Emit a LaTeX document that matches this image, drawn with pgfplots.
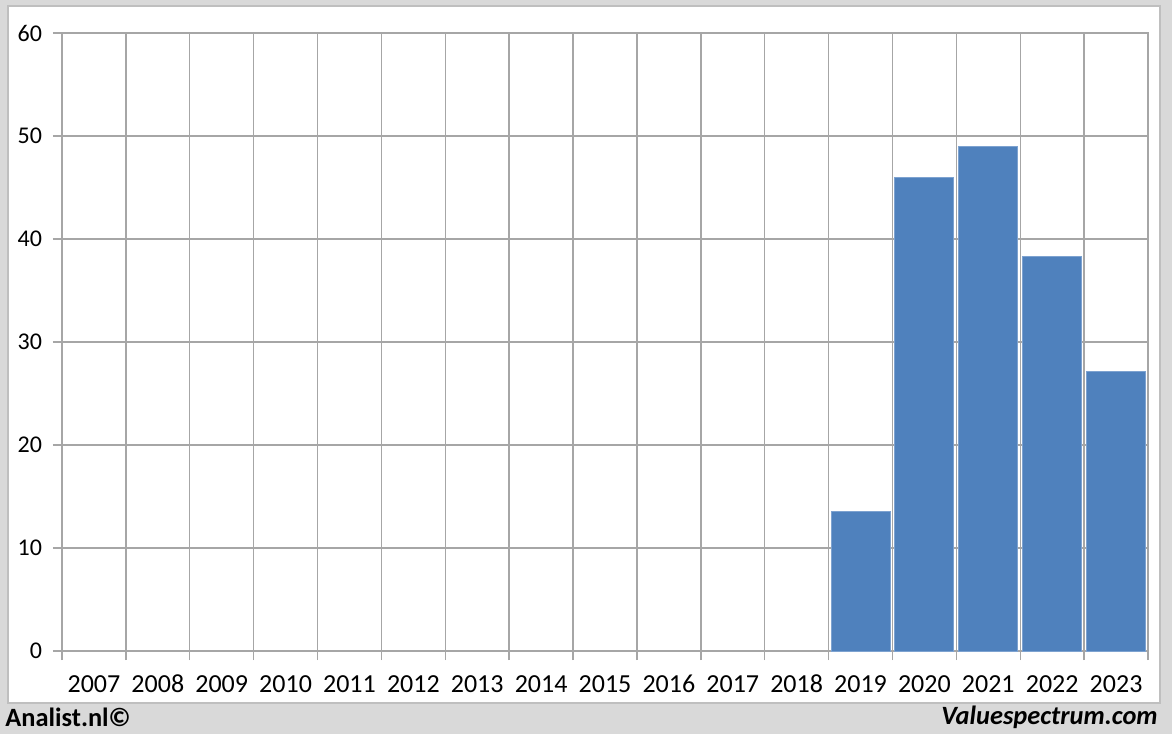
\documentclass[border=0pt]{standalone}
\usepackage{pgfplots}
\pgfplotsset{compat=1.18}
\usepackage{fontspec}
\setmainfont{Carlito}
\definecolor{gridcol}{HTML}{A6A6A6}
\definecolor{barcol}{HTML}{4F81BD}
\definecolor{bgcol}{HTML}{D9D9D9}
\definecolor{framecol}{HTML}{BFBFBF}
\begin{document}
\begin{tikzpicture}[x=0.5pt,y=0.5pt]
% background: grey outer, white panel
\fill[bgcol] (-62,-83) rectangle (1110,651);
\fill[white] (-54,-52) rectangle (1098,645);
\draw[framecol,line width=0.8pt] (-54,-52) rectangle (1098,645);
\node[anchor=west,font=\fontsize{13.2}{15}\selectfont\bfseries,inner sep=0pt] at (-57,-66) {Analist.nl©};
\node[anchor=east,font=\fontsize{13.2}{15}\selectfont\bfseries\itshape,inner sep=0pt] at (1096,-66) {Valuespectrum.com};
\begin{axis}[
    at={(0,0)}, anchor=south west,
    scale only axis,
    width=543pt, height=309pt,
    xmin=-0.5, xmax=16.5,
    ymin=0, ymax=60,
    ytick={0,10,...,60},
    xtick={0,...,16},
    xticklabels={2007,2008,2009,2010,2011,2012,2013,2014,2015,2016,2017,2018,2019,2020,2021,2022,2023},
    minor xtick={-0.5,0.5,1.5,2.5,3.5,4.5,5.5,6.5,7.5,8.5,9.5,10.5,11.5,12.5,13.5,14.5,15.5,16.5},
    xminorgrids=true, ymajorgrids=true, xmajorgrids=false,
    grid style={gridcol, line width=0.7pt},
    minor grid style={gridcol, line width=0.7pt},
    axis line style={gridcol, line width=0.7pt},
    tick align=outside,
    xtick pos=bottom, ytick pos=left,
    major tick length=4.5pt, minor tick length=4.5pt,
    every major x tick/.append style={draw=none},
    minor x tick style={draw=gridcol, line width=0.7pt},
    ytick style={gridcol, line width=0.7pt},
    x tick label style={font=\fontsize{13}{15}\selectfont, anchor=base, yshift=-16pt},
    y tick label style={font=\fontsize{12}{14}\selectfont, xshift=-2pt},
    /pgf/number format/assume math mode=true,
    ybar, bar width=29.5pt,
]
\addplot[fill=barcol, draw={rgb,255:red,125;green,162;blue,208}, line width=0.5pt] coordinates {
    (12,13.5)(13,46.0)(14,49.0)(15,38.3)(16,27.1)
};
\end{axis}
\end{tikzpicture}
\end{document}
